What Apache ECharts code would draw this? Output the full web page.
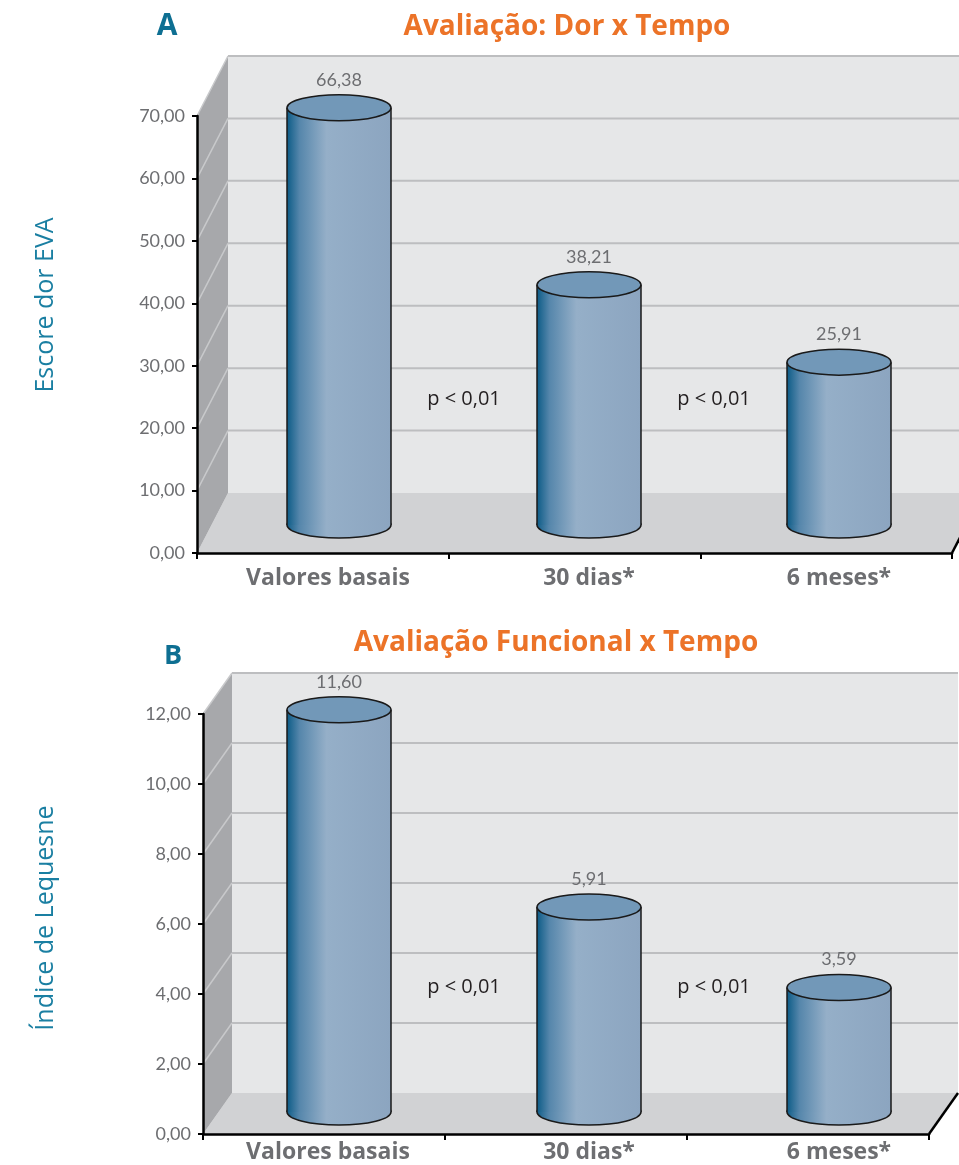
<!DOCTYPE html>
<html>
<head>
<meta charset="utf-8">
<script src="https://cdn.jsdelivr.net/npm/echarts@6/dist/echarts.min.js"></script>
<style>
html, body { margin: 0; padding: 0; background: #fff; }
#main { width: 959px; height: 1165px; }
</style>
</head>
<body>
<div id="main"></div>
<script>

var categories = ['Valores basais', '30 dias*', '6 meses*'];
var dorValues = [66.38, 38.21, 25.91];
var funcValues = [11.60, 5.91, 3.59];
var dorTicks = [0, 10, 20, 30, 40, 50, 60, 70];
var funcTicks = [0, 2, 4, 6, 8, 10, 12];
var pLabels = ['p < 0,01', 'p < 0,01'];

var FONT = 'Lato, "Open Sans", sans-serif';
var WIDE = '"Open Sans", Lato, sans-serif';
var GRAY = '#6d6e71';

function fmt(v) {
    return v.toFixed(2).replace('.', ',');
}

// layout of the two panels (front axes, bar plane, depth of the "3d" box)
var panels = [
    {
        values: dorValues, ticks: dorTicks, pAt: 20,
        front: { left: 197, top: 116, width: 755, height: 437 },
        bars: { left: 214, top: 85, width: 750, height: 440 },
        depth: [31, -60], labelMargin: 42
    },
    {
        values: funcValues, ticks: funcTicks, pAt: 3.6,
        front: { left: 203, top: 714, width: 726, height: 420 },
        bars: { left: 214, top: 696, width: 750, height: 416 },
        depth: [29, -41], labelMargin: 29
    }
];

var bodyGradient = {
    type: 'linear', x: 0, y: 0, x2: 1, y2: 0,
    colorStops: [
        { offset: 0, color: '#0d5c87' },
        { offset: 0.12, color: '#5586ab' },
        { offset: 0.38, color: '#95afc8' },
        { offset: 1, color: '#8ca5c0' }
    ]
};

function wallRenderer(panel) {
    return function (params, api) {
        var cs = params.coordSys;
        var dx = panel.depth[0], dy = panel.depth[1];
        var L = cs.x, R = cs.x + cs.width, T = cs.y, B = cs.y + cs.height;
        var children = [
            { type: 'rect', shape: { x: L + dx, y: T + dy, width: cs.width, height: cs.height },
              style: { fill: '#e6e7e8' } },
            { type: 'polygon', shape: { points: [[L, B], [L + dx, B + dy], [R + dx, B + dy], [R, B]] },
              style: { fill: '#d1d2d4' } },
            { type: 'polygon', shape: { points: [[L, B], [L, T], [L + dx, T + dy], [L + dx, B + dy]] },
              style: { fill: '#a7a8ab' } }
        ];
        panel.ticks.forEach(function (v) {
            if (v === 0) return;
            var y = api.coord([0, v])[1];
            children.push({ type: 'line', shape: { x1: L + dx, y1: y + dy, x2: R + dx, y2: y + dy },
                style: { stroke: '#bdbec0', lineWidth: 2 } });
            children.push({ type: 'line', shape: { x1: L, y1: y, x2: L + dx, y2: y + dy },
                style: { stroke: '#c8c9cb', lineWidth: 1.5 } });
        });
        children.push({ type: 'line', shape: { x1: R, y1: B, x2: R + dx, y2: B + dy },
            style: { stroke: '#000', lineWidth: 2.5 } });
        return { type: 'group', children: children };
    };
}

function cylinder(params, api) {
    var top = api.coord([api.value(0), api.value(1)]);
    var base = api.coord([api.value(0), 0]);
    var cx = top[0], rx = 52, ry = 13;
    var edge = { stroke: '#1a1a1a', lineWidth: 1.5 };
    return {
        type: 'group',
        children: [
            { type: 'ellipse', shape: { cx: cx, cy: base[1], rx: rx, ry: ry },
              style: { fill: bodyGradient, stroke: edge.stroke, lineWidth: edge.lineWidth } },
            { type: 'rect', shape: { x: cx - rx, y: top[1], width: rx * 2, height: base[1] - top[1] },
              style: { fill: bodyGradient } },
            { type: 'line', shape: { x1: cx - rx, y1: top[1], x2: cx - rx, y2: base[1] }, style: edge },
            { type: 'line', shape: { x1: cx + rx, y1: top[1], x2: cx + rx, y2: base[1] }, style: edge },
            { type: 'ellipse', shape: { cx: cx, cy: top[1], rx: rx, ry: ry },
              style: { fill: '#7298b8', stroke: edge.stroke, lineWidth: edge.lineWidth } },
            { type: 'text', x: cx, y: top[1] - ry - 6,
              style: { text: fmt(api.value(1)), fill: GRAY, font: '18px ' + FONT,
                       textAlign: 'center', textVerticalAlign: 'bottom' } }
        ]
    };
}

function pRenderer(params, api) {
    var a = api.coord([api.value(0), api.value(2)]);
    var b = api.coord([api.value(1), api.value(2)]);
    return {
        type: 'text', x: (a[0] + b[0]) / 2, y: a[1],
        style: { text: pLabels[params.dataIndex], fill: '#231f20', font: '20px ' + WIDE,
                 textAlign: 'center', textVerticalAlign: 'middle' }
    };
}

var labelFont = { color: GRAY, fontFamily: WIDE, fontWeight: 'bold', fontSize: 23 };

var grid = [], xAxis = [], yAxis = [], series = [];

panels.forEach(function (p, i) {
    var f = 2 * i, b = 2 * i + 1;
    var min = p.ticks[0], max = p.ticks[p.ticks.length - 1];

    grid.push(Object.assign({ outerBoundsMode: 'none' }, p.front));
    grid.push(Object.assign({ outerBoundsMode: 'none' }, p.bars));

    xAxis.push({
        type: 'category', gridIndex: f, data: categories, z: 5,
        axisLine: { show: true, lineStyle: { color: '#000', width: 2.5 } },
        axisTick: { show: true, length: 6, lineStyle: { color: '#000', width: 2 } },
        axisLabel: { show: false },
        splitLine: { show: false }
    });
    xAxis.push({
        type: 'category', gridIndex: b, data: categories,
        axisLine: { show: false }, axisTick: { show: false }, splitLine: { show: false },
        axisLabel: Object.assign({
            interval: 0,
            hideOverlap: false,
            margin: p.labelMargin,
            formatter: function (value, idx) {
                return idx === 0 ? '{first|' + value + '}' : value;
            },
            rich: { first: Object.assign({ padding: [0, 22, 0, 0] }, labelFont) }
        }, labelFont)
    });

    yAxis.push({
        type: 'value', gridIndex: f, min: min, max: max, interval: p.ticks[1] - p.ticks[0], z: 5,
        axisLine: { show: true, lineStyle: { color: '#000', width: 2.5 } },
        axisTick: { show: true, length: 5, lineStyle: { color: '#000', width: 2 } },
        axisLabel: { color: GRAY, fontFamily: FONT, fontSize: 18, margin: 12, formatter: fmt },
        splitLine: { show: false }
    });
    yAxis.push({ type: 'value', gridIndex: b, min: min, max: max, show: false });

    series.push({
        type: 'custom', name: 'walls' + i, xAxisIndex: f, yAxisIndex: f,
        data: [[0, 0]], z: 1, silent: true, clip: false,
        renderItem: wallRenderer(p)
    });
    series.push({
        type: 'custom', name: 'bars' + i, xAxisIndex: b, yAxisIndex: b,
        data: p.values.map(function (v, k) { return [k, v]; }),
        z: 3, silent: true, clip: false,
        renderItem: cylinder
    });
    series.push({
        type: 'custom', name: 'p' + i, xAxisIndex: b, yAxisIndex: b,
        data: pLabels.map(function (t, k) { return [k, k + 1, p.pAt]; }),
        encode: { x: 0, y: 2 },
        z: 4, silent: true, clip: false,
        renderItem: pRenderer
    });
});

var myChart = echarts.init(document.getElementById('main'));

var option = {
    animation: false,
    title: [
        { text: 'Avaliação: Dor x Tempo', left: 567, top: 13, textAlign: 'center', padding: 0,
          textStyle: { color: '#ec7328', fontWeight: 'bold', fontSize: 28, fontFamily: WIDE } },
        { text: 'Avaliação Funcional x Tempo', left: 556, top: 629, textAlign: 'center', padding: 0,
          textStyle: { color: '#ec7328', fontWeight: 'bold', fontSize: 28, fontFamily: WIDE } }
    ],
    graphic: [
        { type: 'text', x: 167, y: 26,
          style: { text: 'A', fill: '#0e6f92', font: 'bold 30px ' + WIDE, textAlign: 'center', textVerticalAlign: 'middle' } },
        { type: 'text', x: 173, y: 656,
          style: { text: 'B', fill: '#0e6f92', font: 'bold 27px ' + WIDE, textAlign: 'center', textVerticalAlign: 'middle' } },
        { type: 'text', x: 46, y: 305, rotation: Math.PI / 2,
          style: { text: 'Escore dor EVA', fill: '#1a7fa2', font: '25px ' + WIDE, textAlign: 'center', textVerticalAlign: 'middle' } },
        { type: 'text', x: 46, y: 918, rotation: Math.PI / 2,
          style: { text: 'Índice de Lequesne', fill: '#1a7fa2', font: '25px ' + WIDE, textAlign: 'center', textVerticalAlign: 'middle' } }
    ],
    grid: grid,
    xAxis: xAxis,
    yAxis: yAxis,
    series: series
};

myChart.setOption(option);

</script>
</body>
</html>
